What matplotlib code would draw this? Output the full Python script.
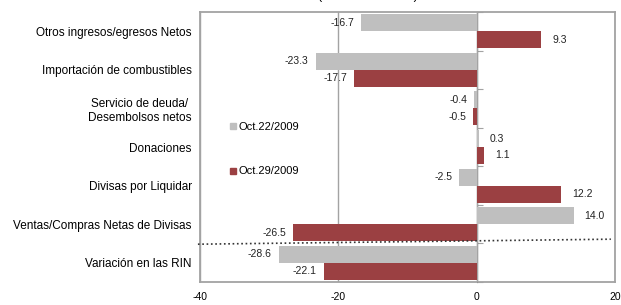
import matplotlib
matplotlib.use("Agg")
import matplotlib.pyplot as plt
import matplotlib.transforms as mtransforms
import numpy as np
from matplotlib.lines import Line2D

plt.rcParams['font.family'] = ['Liberation Sans', 'DejaVu Sans']

categories = [
    "Otros ingresos/egresos Netos",
    "Importación de combustibles",
    "Servicio de deuda/\nDesembolsos netos",
    "Donaciones",
    "Divisas por Liquidar",
    "Ventas/Compras Netas de Divisas",
    "Variación en las RIN",
]
series_names = ["Oct.22/2009", "Oct.29/2009"]
oct22 = [-16.7, -23.3, -0.4, 0.3, -2.5, 14.0, -28.6]
oct29 = [9.3, -17.7, -0.5, 1.1, 12.2, -26.5, -22.1]
x_ticks = [-40, -20, 0, 20]
title = "(Millones de US$)"

col_gray = "#BFBFBF"
col_red = "#9B4042"
border = "#A3A3A3"

fig = plt.figure(figsize=(6.21, 3.05), dpi=100)
ax = fig.add_axes([200/621, 1-282/305, 415/621, 270/305])

y = np.arange(len(categories))
h = 0.44
ax.barh(y - h/2, oct22, height=h, color=col_gray, label=series_names[0], zorder=3)
ax.barh(y + h/2, oct29, height=h, color=col_red, label=series_names[1], zorder=3)

ax.set_xlim(-40, 20)
ax.set_ylim(len(categories) - 0.5, -0.5)
ax.set_xticks(x_ticks)
ax.set_xticklabels([str(v) for v in x_ticks], fontsize=7.5)
ax.tick_params(axis='x', length=0, pad=7)
ax.set_yticks(y)
ax.set_yticklabels(categories, fontsize=8.5, multialignment='center')
ax.tick_params(axis='y', length=0, pad=6)

for s in ax.spines.values():
    s.set_color(border)
    s.set_linewidth(1.3)

ax.grid(axis='x', color=border, linewidth=1.0, zorder=1)
ax.set_axisbelow(True)

# category axis at zero with boundary ticks
sec = ax.secondary_yaxis((0 - (-40)) / 60.0)
sec.set_yticks(np.arange(len(categories) + 1) - 0.5)
sec.set_yticklabels([])
sec.tick_params(axis='y', length=4, width=0.8, color=border, direction='out')
sec.spines['left'].set_color("#999999")
sec.spines['left'].set_linewidth(1.2)

# value labels
def label(vals, offs):
    for yi, v in zip(y + offs, vals):
        ax.annotate(f"{v:.1f}", xy=(v, yi), xytext=(-5 if v < 0 else 8, 0),
                    textcoords='offset points', ha='right' if v < 0 else 'left',
                    va='center', fontsize=7.5, color='#222222', zorder=5)

label(oct22, -h/2)
label(oct29, h/2)

# dotted separator
ax.add_line(Line2D([-0.005, 0.99], [0.02 + 5.5, 5.5 - 0.11],
                   transform=mtransforms.blended_transform_factory(ax.transAxes, ax.transData),
                   linestyle=(0, (1, 1.6)), color='#333333', linewidth=1.2,
                   clip_on=False, zorder=6))

handles = [Line2D([], [], marker='s', linestyle='none', color=col_gray, markersize=4.5),
           Line2D([], [], marker='s', linestyle='none', color=col_red, markersize=4.5)]
leg = ax.legend(handles, series_names, loc='upper left',
                bbox_to_anchor=(230/621, 1-122/305), bbox_transform=fig.transFigure,
                frameon=False, fontsize=8, handlelength=0.6, handletextpad=0.2,
                labelspacing=3.1, borderpad=0, borderaxespad=0)

fig.text(368/621, 1.0 + 0.5/305, title, ha='center', va='baseline', fontsize=9)

fig.savefig("out.png", dpi=100)
